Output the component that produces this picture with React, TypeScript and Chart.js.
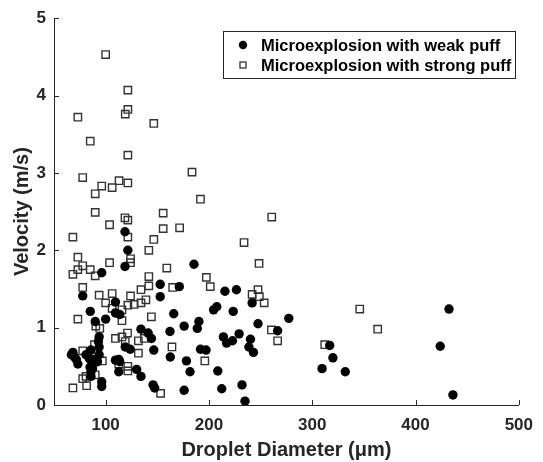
import React, { useEffect, useRef } from 'react';
import { Chart, registerables } from 'chart.js';

Chart.register(...registerables);

// Microexplosion with weak puff (filled circles)
const weakX = [118.7, 121.5, 118.7, 96.2, 185.5, 152.8, 171.3, 77.8, 152.8, 109.5, 215.5, 226.6, 85.1, 109.5, 113.6, 165.9, 204.5, 207.6, 223.5, 241.8, 247.5, 277.3, 266.5, 214, 217.1, 222.8, 229.2, 240.2, 238.7, 243.1, 208.6, 212.4, 232, 234.9, 316.9, 320, 309.5, 332, 432.4, 423.9, 436.2, 89.9, 100, 190.3, 188.7, 176, 162.3, 134.2, 141.2, 144.3, 93.7, 93.0, 93.7, 93.7, 119, 123.8, 146.6, 162.6, 178.2, 181.7, 191.8, 197.2, 176, 145.9, 147.5, 68.3, 69.9, 73.1, 66.8, 81, 85.8, 84.2, 87.3, 89.9, 92.1, 84.9, 85.8, 87.3, 85.8, 96.2, 96.2, 109.5, 112.7, 113.6, 112.7, 130, 134.2, 71.5];
const weakY = [2.24, 2.0, 1.79, 1.71, 1.82, 1.56, 1.53, 1.41, 1.4, 1.33, 1.47, 1.49, 1.21, 1.19, 1.17, 1.18, 1.23, 1.27, 1.21, 1.32, 1.05, 1.12, 0.96, 0.88, 0.8, 0.83, 0.92, 0.85, 0.75, 0.68, 0.44, 0.21, 0.26, 0.05, 0.77, 0.61, 0.47, 0.43, 1.24, 0.76, 0.13, 1.08, 1.11, 1.08, 0.99, 1.02, 0.95, 0.98, 0.93, 0.86, 0.88, 0.82, 0.75, 0.65, 0.75, 0.72, 0.71, 0.62, 0.57, 0.43, 0.72, 0.71, 0.19, 0.26, 0.22, 0.68, 0.62, 0.53, 0.65, 0.65, 0.71, 0.6, 0.59, 0.58, 0.56, 0.49, 0.43, 0.47, 0.37, 0.3, 0.24, 0.58, 0.59, 0.56, 0.43, 0.46, 0.37, 0.59];

// Microexplosion with strong puff (open squares)
const strongX = [73.1, 85.1, 100, 121.5, 121.5, 119, 146.6, 121.5, 77.8, 183.6, 96.2, 89.9, 106.3, 113, 121.5, 191.8, 89.9, 155.7, 118.7, 121.5, 103.8, 155.7, 171.6, 68.3, 121.5, 146.6, 141.8, 73.1, 77.8, 73.1, 85.1, 68.3, 89.9, 103.8, 124.1, 124.1, 159.2, 141.8, 197.5, 260.8, 234, 248.5, 77.8, 141.8, 134.2, 93.7, 106.3, 100, 124.1, 134.2, 139, 127.6, 121.5, 115.8, 106.3, 164.9, 201.3, 144.3, 73.1, 115.8, 90.5, 94.3, 109.5, 115.8, 121.2, 119, 131.7, 137.4, 164.2, 77.8, 89.2, 131.7, 96.8, 112.7, 121.5, 121.5, 196, 77.8, 81, 81.6, 89.9, 68.3, 153.2, 247.5, 241.8, 248.8, 253.5, 260.5, 266.5, 312.1, 346, 363.4];
const strongY = [3.72, 3.41, 4.53, 4.07, 3.82, 3.76, 3.64, 3.23, 2.94, 3.01, 2.83, 2.73, 2.81, 2.9, 2.87, 2.66, 2.49, 2.48, 2.42, 2.39, 2.33, 2.28, 2.29, 2.17, 2.17, 2.14, 2.0, 1.91, 1.8, 1.75, 1.75, 1.69, 1.67, 1.84, 1.89, 1.84, 1.77, 1.66, 1.65, 2.43, 2.1, 1.83, 1.52, 1.54, 1.49, 1.42, 1.44, 1.32, 1.41, 1.32, 1.36, 1.3, 1.29, 1.23, 1.25, 1.52, 1.53, 1.14, 1.11, 1.09, 1.02, 0.99, 0.86, 0.88, 0.93, 0.82, 0.83, 0.86, 0.75, 0.7, 0.78, 0.67, 0.57, 0.53, 0.5, 0.44, 0.57, 0.34, 0.37, 0.25, 0.39, 0.22, 0.15, 1.49, 1.43, 1.4, 1.32, 0.97, 0.83, 0.78, 1.24, 0.98];

const seriesNames = ['Microexplosion with weak puff', 'Microexplosion with strong puff'];
const xTicks = [100, 200, 300, 400, 500];
const yTicks = [0, 1, 2, 3, 4, 5];
const xTitle = 'Droplet Diameter (\u03BCm)';
const yTitle = 'Velocity (m/s)';

const INK = '#262626';
const FONT = "'Liberation Sans', Arial, sans-serif";

const tickPlugin = {
  id: 'inwardTicks',
  afterDraw(chart: any) {
    const { ctx, chartArea, scales } = chart;
    const x = scales.x;
    const y = scales.y;
    ctx.save();
    ctx.strokeStyle = INK;
    ctx.lineWidth = 1;
    x.ticks.forEach((t: any) => {
      const px = Math.round(x.getPixelForValue(t.value)) + 0.5;
      ctx.beginPath();
      ctx.moveTo(px, chartArea.bottom);
      ctx.lineTo(px, chartArea.bottom - 5);
      ctx.stroke();
    });
    y.ticks.forEach((t: any) => {
      const py = Math.round(y.getPixelForValue(t.value)) + 0.5;
      ctx.beginPath();
      ctx.moveTo(chartArea.left, py);
      ctx.lineTo(chartArea.left + 5, py);
      ctx.stroke();
    });
    ctx.restore();
  },
};

const legendPlugin = {
  id: 'boxLegend',
  afterDraw(chart: any) {
    const { ctx } = chart;
    const bx = 223.5, by = 31.5, bw = 292, bh = 47;
    ctx.save();
    ctx.fillStyle = '#ffffff';
    ctx.fillRect(bx, by, bw, bh);
    ctx.strokeStyle = INK;
    ctx.lineWidth = 1;
    ctx.strokeRect(bx, by, bw, bh);
    const rows = [45, 65];
    chart.data.datasets.forEach((ds: any, i: number) => {
      const cy = rows[i];
      const cx = 243;
      if (i === 0) {
        ctx.fillStyle = '#000';
        ctx.beginPath();
        ctx.arc(cx, cy, 4.2, 0, Math.PI * 2);
        ctx.fill();
      } else {
        ctx.strokeStyle = '#333';
        ctx.lineWidth = 1.3;
        ctx.strokeRect(cx - 3, cy - 3, 6, 6);
      }
      ctx.fillStyle = '#000';
      ctx.font = `bold 16.5px ${FONT}`;
      ctx.textAlign = 'left';
      ctx.textBaseline = 'middle';
      ctx.fillText(ds.label, 261, cy + 1);
    });
    ctx.restore();
  },
};

export default function App() {
  const ref = useRef<HTMLCanvasElement>(null);
  useEffect(() => {
    if (!ref.current) return;
    const chart = new Chart(ref.current, {
      type: 'scatter',
      data: {
        datasets: [
          {
            label: seriesNames[0],
            data: weakX.map((x, i) => ({ x, y: weakY[i] })),
            pointStyle: 'circle',
            pointRadius: 4.7,
            pointBackgroundColor: '#000',
            pointBorderColor: '#000',
            pointBorderWidth: 0,
          },
          {
            label: seriesNames[1],
            data: strongX.map((x, i) => ({ x, y: strongY[i] })),
            pointStyle: 'rect',
            pointRadius: 5.2,
            pointBackgroundColor: 'rgba(255,255,255,0)',
            pointBorderColor: '#333',
            pointBorderWidth: 1.4,
          },
        ],
      },
      options: {
        responsive: false,
        animation: false,
        layout: { padding: { top: 18, right: 15, left: 0, bottom: 0 } },
        plugins: { legend: { display: false }, tooltip: { enabled: false } },
        scales: {
          x: {
            type: 'linear',
            min: 50,
            max: 500,
            afterBuildTicks: (s: any) => { s.ticks = xTicks.map((v) => ({ value: v })); },
            afterFit: (s: any) => { s.height = 57; },
            grid: { display: true, drawOnChartArea: false, drawTicks: false },
            border: { display: true, color: INK, width: 1 },
            ticks: {
              color: INK,
              padding: 10,
              maxRotation: 0,
              font: { family: FONT, size: 17, weight: 'bold' },
            },
            title: {
              display: true,
              text: xTitle,
              color: INK,
              padding: { top: 0, bottom: 0 },
              font: { family: FONT, size: 20, weight: 'bold' },
            },
          },
          y: {
            type: 'linear',
            min: 0,
            max: 5,
            afterBuildTicks: (s: any) => { s.ticks = yTicks.map((v) => ({ value: v })); },
            afterFit: (s: any) => { s.width = 54; },
            grid: { display: true, drawOnChartArea: false, drawTicks: false },
            border: { display: true, color: INK, width: 1 },
            ticks: {
              color: INK,
              padding: 8,
              font: { family: FONT, size: 17, weight: 'bold' },
            },
            title: {
              display: true,
              text: yTitle,
              color: INK,
              padding: { top: 10, bottom: 0 },
              font: { family: FONT, size: 20, weight: 'bold' },
            },
          },
        },
      },
      plugins: [tickPlugin, legendPlugin],
    });
    return () => chart.destroy();
  }, []);
  return (
    <div style={{ position: 'fixed', left: 0, top: 0, width: 543, height: 462, background: '#fff' }}>
      <canvas ref={ref} width={543} height={462} style={{ display: 'block' }} />
    </div>
  );
}
